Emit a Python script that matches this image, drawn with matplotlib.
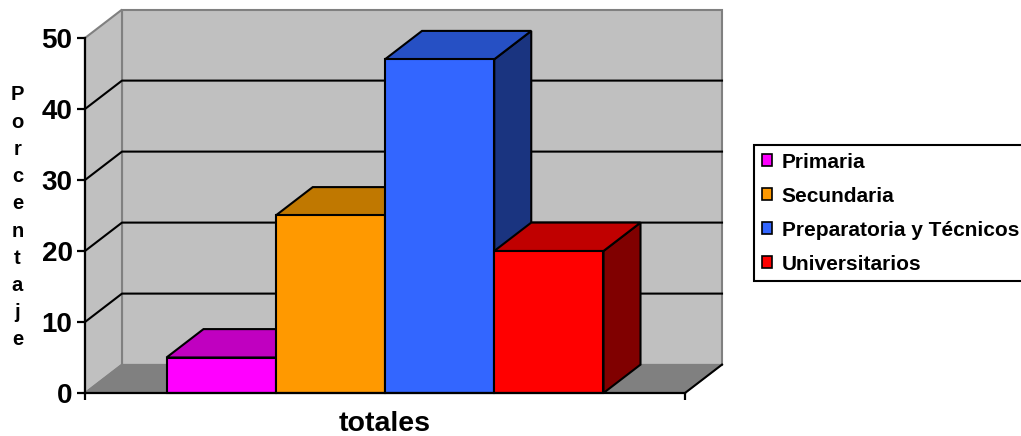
import matplotlib.pyplot as plt
from matplotlib.patches import Polygon, Rectangle, Patch

plt.rcParams['font.family'] = ['Liberation Sans', 'DejaVu Sans']
plt.rcParams['font.weight'] = 'bold'

# datos
categorias = ['Primaria', 'Secundaria', 'Preparatoria y Técnicos', 'Universitarios']
valores = [5, 25, 47, 20]
yticks = [0, 10, 20, 30, 40, 50]
xlabel = 'totales'
ylabel = 'Porcentaje'

frente = ['#FF00FF', '#FF9900', '#3366FF', '#FF0000']
arriba = ['#C000C0', '#C07800', '#2650C4', '#C00000']
lado = ['#800080', '#804C00', '#1A3480', '#800000']

W, H = 1021, 436
fig = plt.figure(figsize=(W/100, H/100), dpi=100)
ax = fig.add_axes([85/W, (H-393)/H, 600/W, 355/H])

UNIT = 109.25
XMAX = 600/UNIT
X0 = (XMAX - len(valores))/2
DX = 37/UNIT
DY = 4.0
YMAX = 50

ax.set_xlim(0, XMAX)
ax.set_ylim(0, YMAX)
ax.patch.set_visible(False)

gris = '#C0C0C0'
gris_osc = '#808080'

# paredes y piso
ax.add_patch(Rectangle((DX, DY), XMAX, YMAX, facecolor=gris, edgecolor=gris_osc,
                       lw=1.5, clip_on=False, zorder=0))
ax.add_patch(Polygon([(0, 0), (0, YMAX), (DX, YMAX+DY), (DX, DY)], closed=True,
                     facecolor=gris, edgecolor=gris_osc, lw=1.5, clip_on=False, zorder=0))
ax.add_patch(Polygon([(0, 0), (DX, DY), (XMAX+DX, DY), (XMAX, 0)], closed=True,
                     facecolor=gris_osc, edgecolor=gris_osc, lw=1.0, clip_on=False, zorder=0.5))
ax.plot([XMAX, XMAX+DX], [0, DY], color='black', lw=1.5, clip_on=False, zorder=1)

# lineas de division
for v in yticks[1:-1]:
    ax.plot([0, DX, XMAX+DX], [v, v+DY, v+DY], color='black', lw=1.5,
            clip_on=False, zorder=1)

# barras
for i, v in enumerate(valores):
    x0 = X0 + i
    x1 = x0 + 1
    kw = dict(closed=True, edgecolor='black', lw=1.5, joinstyle='miter',
              clip_on=False, zorder=2+i)
    ax.add_patch(Polygon([(x1, 0), (x1+DX, DY), (x1+DX, v+DY), (x1, v)],
                         facecolor=lado[i], **kw))
    ax.add_patch(Polygon([(x0, v), (x0+DX, v+DY), (x1+DX, v+DY), (x1, v)],
                         facecolor=arriba[i], **kw))
    ax.add_patch(Polygon([(x0, 0), (x0, v), (x1, v), (x1, 0)],
                         facecolor=frente[i], **kw))

for s in ['top', 'right']:
    ax.spines[s].set_visible(False)
for s in ['left', 'bottom']:
    ax.spines[s].set_linewidth(1.6)
    ax.spines[s].set_color('black')
    ax.spines[s].set_zorder(10)

ax.set_yticks(yticks)
ax.set_yticklabels([str(t) for t in yticks], fontsize=20, fontweight='bold')
ax.tick_params(axis='y', direction='out', length=6, width=1.6, pad=3)
ax.set_xticks([0, XMAX])
ax.set_xticklabels(['', ''])
ax.tick_params(axis='x', direction='out', length=5, width=1.6)

fig.text(385/W, 1-431/H, xlabel, ha='center', va='baseline',
         fontsize=20.5, fontweight='bold')

for i, ch in enumerate(ylabel):
    fig.text(17.5/W, 1-(100.5+i*27.2)/H, ch, ha='center', va='baseline',
             fontsize=14.5, fontweight='bold')

handles = [Patch(facecolor=c, edgecolor='black', lw=1.2) for c in frente]
leg = fig.legend(handles, categorias, loc='upper left',
                 bbox_to_anchor=(754/W, 1-145/H), borderaxespad=0,
                 frameon=True, fancybox=False, framealpha=1, edgecolor='black',
                 prop={'size': 15, 'weight': 'bold'},
                 handlelength=0.48, handleheight=0.48, handletextpad=0.48,
                 labelspacing=0.72, borderpad=0.36)
leg.get_frame().set_linewidth(1.5)

fig.savefig('out.png', dpi=100)
